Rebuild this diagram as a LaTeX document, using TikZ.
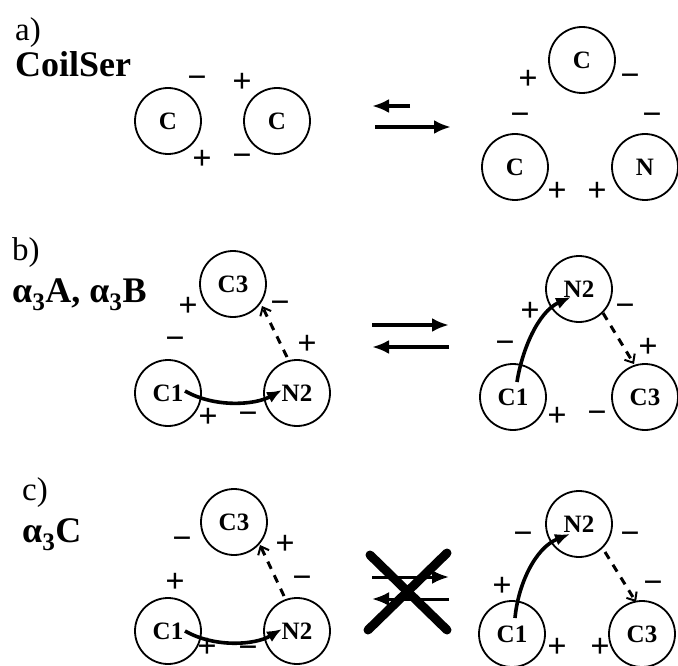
\documentclass[tikz,border=0pt]{standalone}
\usepackage{fontspec}
\setmainfont{Liberation Serif}
\usetikzlibrary{arrows.meta}
\begin{document}
\begin{tikzpicture}[x=1pt,y=-1pt,
  ball/.style={draw, line width=1.8pt, circle, minimum size=66pt, inner sep=0pt, font=\fontsize{25}{25}\selectfont\bfseries},
  sgn/.style={font=\fontsize{34}{34}\selectfont\bfseries, inner sep=0pt},
  ttl/.style={anchor=base west, font=\fontsize{36}{36}\selectfont\bfseries, inner sep=0pt},
  lbl/.style={anchor=base west, font=\fontsize{33}{33}\selectfont, inner sep=0pt},
  eqarr/.style={line width=3.6pt, -{Latex[length=17pt,width=14pt]}},
  bond/.style={line width=3.6pt, -{Latex[length=15pt,width=12pt]}},
  hbond/.style={line width=3pt, dash pattern=on 8pt off 7pt, -{Straight Barb[length=7pt,width=12pt,line width=2pt]}},
  cross/.style={line width=9pt, line cap=round}
]
\useasboundingbox (0,0) rectangle (678,666);
\def\mn{\char"2212}
% ---------- panel a ----------
\node[lbl] (la) at (15,41) {a)};
\node[ttl] (ta) at (15,77) {CoilSer};
\node[ball] (aL) at (168,121) {C};
\node[ball] (aR) at (277,121) {C};
\node[sgn] (sa1) at (197,82) {\mn};
\node[sgn] (sa2) at (242,83) {+};
\node[sgn] (sa3) at (202,160) {+};
\node[sgn] (sa4) at (242,160) {\mn};
\node[ball] (aT) at (582,60) {C};
\node[ball] (aBL) at (515,167) {C};
\node[ball] (aBR) at (645,167) {N};
\node[sgn] (sa5) at (528,80) {+};
\node[sgn] (sa6) at (630,80) {\mn};
\node[sgn] (sa7) at (520,119) {\mn};
\node[sgn] (sa8) at (652,119) {\mn};
\node[sgn] (sa9) at (557,192) {+};
\node[sgn] (sa10) at (597,192) {+};
\coordinate (ea1s) at (410,106);
\coordinate (ea1e) at (372,106);
\coordinate (ea2s) at (375,127);
\coordinate (ea2e) at (451,127);
\draw[eqarr] (ea1s) -- (ea1e);
\draw[eqarr] (ea2s) -- (ea2e);
% ---------- panel b ----------
\node[lbl] (lb) at (12,261) {b)};
\node[ttl] (tb) at (12,302) {α\textsubscript{3}A, α\textsubscript{3}B};
\node[ball] (bC3) at (233,284) {C3};
\node[ball] (bC1) at (168,393) {C1};
\node[ball] (bN2) at (297,393) {N2};
\node[sgn] (sb1) at (188,307) {+};
\node[sgn] (sb2) at (280,307) {\mn};
\node[sgn] (sb3) at (175,343) {\mn};
\node[sgn] (sb4) at (307,345) {+};
\node[sgn] (sb5) at (208,418) {+};
\node[sgn] (sb6) at (248,418) {\mn};
\coordinate (bs1) at (185,391);
\coordinate (be1) at (282,390);
\draw[bond] (bs1) .. controls (215,408) and (255,405) .. (be1);
\coordinate (bs2) at (287,357);
\coordinate (be2) at (262,306);
\draw[hbond] (bs2) -- (be2);
\node[ball] (bN2r) at (579,289) {N2};
\node[ball] (bC1r) at (513,397) {C1};
\node[ball] (bC3r) at (645,397) {C3};
\node[sgn] (sb7) at (530,312) {+};
\node[sgn] (sb8) at (625,310) {\mn};
\node[sgn] (sb9) at (505,347) {\mn};
\node[sgn] (sb10) at (648,348) {+};
\node[sgn] (sb11) at (557,417) {+};
\node[sgn] (sb12) at (597,417) {\mn};
\coordinate (bs3) at (517,382);
\coordinate (be3) at (571,297);
\draw[bond] (bs3) .. controls (522,350) and (538,312) .. (be3);
\coordinate (bs4) at (603,313);
\coordinate (be4) at (634,364);
\draw[hbond] (bs4) -- (be4);
\coordinate (eb1s) at (372,325);
\coordinate (eb1e) at (449,325);
\coordinate (eb2s) at (449,347);
\coordinate (eb2e) at (372,347);
\draw[eqarr] (eb1s) -- (eb1e);
\draw[eqarr] (eb2s) -- (eb2e);
% ---------- panel c ----------
\node[lbl] (lc) at (22,500) {c)};
\node[ttl] (tc) at (22,542) {α\textsubscript{3}C};
\node[ball] (cC3) at (234,522) {C3};
\node[ball] (cC1) at (168,631) {C1};
\node[ball] (cN2) at (297,631) {N2};
\node[sgn] (sc1) at (182,543) {\mn};
\node[sgn] (sc2) at (285,545) {+};
\node[sgn] (sc3) at (175,583) {+};
\node[sgn] (sc4) at (302,582) {\mn};
\node[sgn] (sc5) at (207,648) {+};
\node[sgn] (sc6) at (248,652) {\mn};
\coordinate (cs1) at (185,631);
\coordinate (ce1) at (282,629);
\draw[bond] (cs1) .. controls (215,648) and (255,645) .. (ce1);
\coordinate (cs2) at (284,596);
\coordinate (ce2) at (260,545);
\draw[hbond] (cs2) -- (ce2);
\node[ball] (cN2r) at (579,524) {N2};
\node[ball] (cC1r) at (512,634) {C1};
\node[ball] (cC3r) at (642,634) {C3};
\node[sgn] (sc7) at (523,538) {\mn};
\node[sgn] (sc8) at (630,538) {\mn};
\node[sgn] (sc9) at (502,587) {+};
\node[sgn] (sc10) at (653,587) {\mn};
\node[sgn] (sc11) at (557,648) {+};
\node[sgn] (sc12) at (600,648) {+};
\coordinate (cs3) at (515,618);
\coordinate (ce3) at (570,534);
\draw[bond] (cs3) .. controls (518,585) and (535,548) .. (ce3);
\coordinate (cs4) at (605,552);
\coordinate (ce4) at (636,602);
\draw[hbond] (cs4) -- (ce4);
\coordinate (ec1s) at (372,577);
\coordinate (ec1e) at (449,577);
\coordinate (ec2s) at (449,599);
\coordinate (ec2e) at (372,599);
\draw[eqarr, line width=3pt] (ec1s) -- (ec1e);
\draw[eqarr, line width=3pt] (ec2s) -- (ec2e);
\coordinate (x1a) at (370,555);
\coordinate (x1b) at (447,630);
\coordinate (x2a) at (368,630);
\coordinate (x2b) at (447,553);
\draw[cross] (x1a) -- (x1b);
\draw[cross] (x2a) -- (x2b);
\end{tikzpicture}
\end{document}
